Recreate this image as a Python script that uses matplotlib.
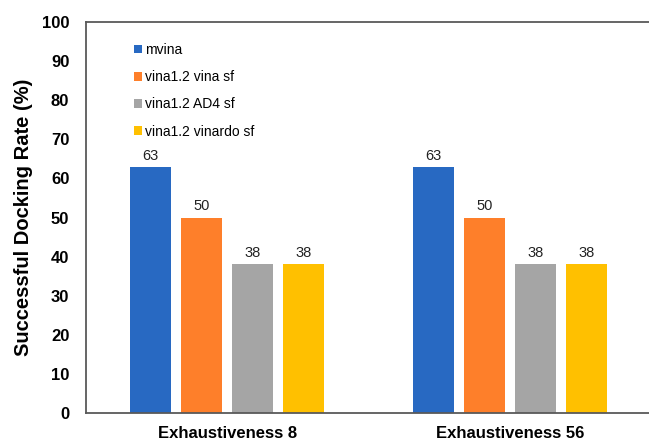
import numpy as np
import matplotlib.pyplot as plt

plt.rcParams['font.family'] = ['Liberation Sans', 'DejaVu Sans']

# Successful docking rate per scoring function, at two exhaustiveness levels
groups = ['Exhaustiveness 8', 'Exhaustiveness 56']
series = ['mvina', 'vina1.2 vina sf', 'vina1.2 AD4 sf', 'vina1.2 vinardo sf']
mvina = [63, 63]
vina_sf = [50, 50]
ad4_sf = [38, 38]
vinardo_sf = [38, 38]
colors = ['#2869C2', '#FE7F2A', '#A5A5A5', '#FFC000']

values = [mvina, vina_sf, ad4_sf, vinardo_sf]

fig = plt.figure(figsize=(6.49, 4.42), dpi=100)
ax = fig.add_axes([86 / 649, 29 / 442, 565 / 649, 391 / 442])

x = np.arange(len(groups))
width = 0.145
step = 0.1805
for i, (name, vals, c) in enumerate(zip(series, values, colors)):
    b = ax.bar(x + (i - 1.5) * step, vals, width, color=c, label=name, zorder=2)
    ax.bar_label(b, labels=[f'{v:.0f}' for v in vals], padding=3,
                 fontsize=10.5, color='#222222')

ax.set_xlim(-0.5, 1.5)
ax.set_ylim(0, 100)
ax.set_yticks(np.arange(0, 101, 10))
ax.set_xticks(x)
ax.set_xticklabels(groups, fontsize=12, fontweight='bold')
for lbl in ax.get_yticklabels():
    lbl.set_fontsize(12)
    lbl.set_fontweight('bold')
ax.tick_params(axis='y', length=0, pad=12)
ax.tick_params(axis='x', length=0, pad=9)

for side in ['left', 'top', 'bottom', 'right']:
    ax.spines[side].set_color('#595959')
    ax.spines[side].set_linewidth(1.3)

ax.set_ylabel('Successful Docking Rate (%)', fontsize=14.5, fontweight='bold')
ax.yaxis.set_label_coords(-0.094, 0.5)

ax.legend(loc='upper left', bbox_to_anchor=(127 / 649, 1 - 36 / 442),
          bbox_transform=fig.transFigure, frameon=False, fontsize=10,
          handlelength=0.6, handleheight=0.6, handletextpad=0.2,
          labelspacing=0.95, borderpad=0)

fig.savefig('out.png', dpi=100)
